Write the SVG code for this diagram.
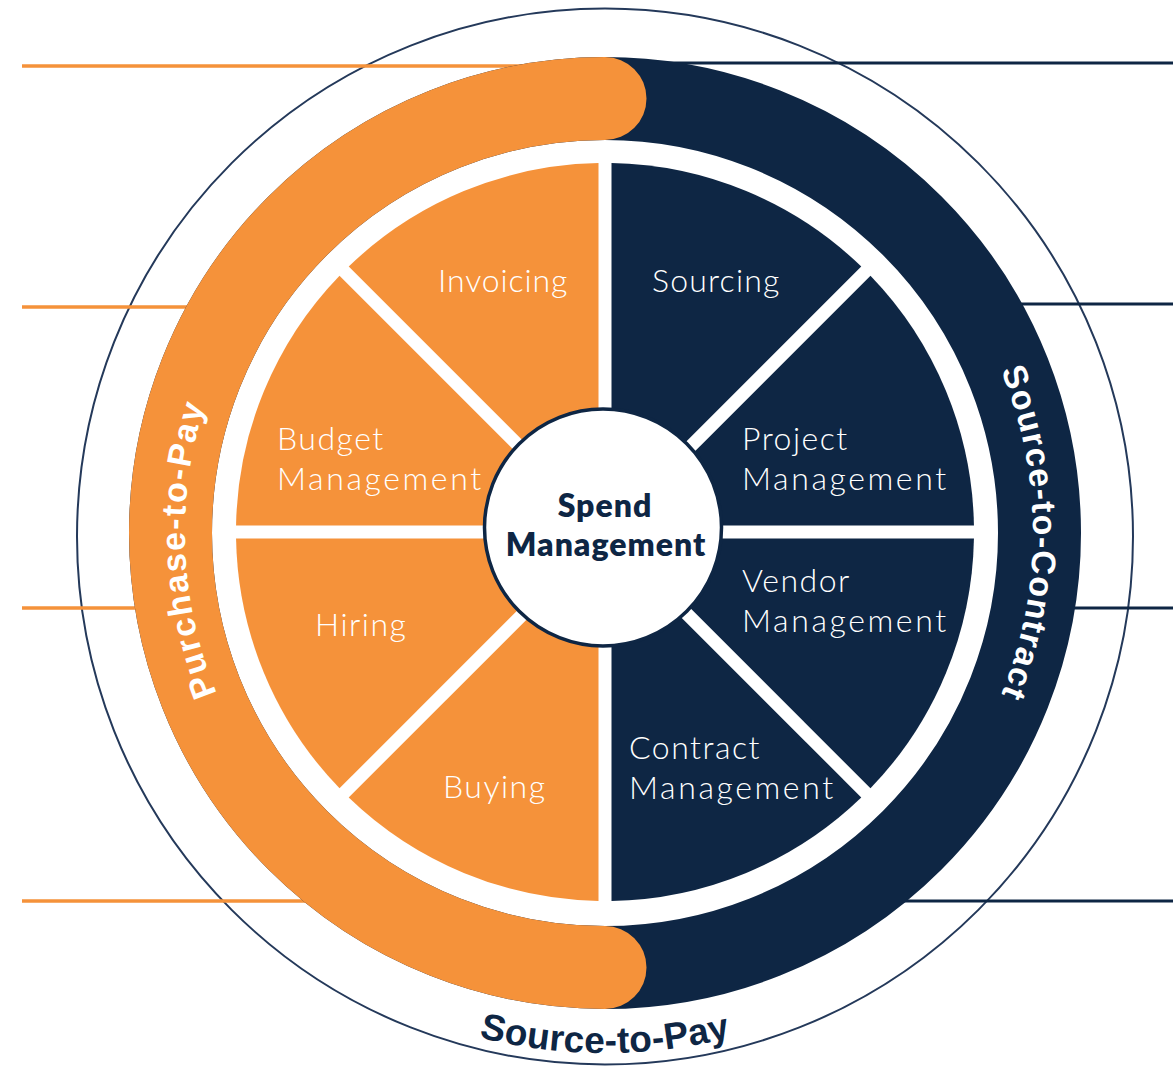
<svg xmlns="http://www.w3.org/2000/svg" width="1173" height="1067" viewBox="0 0 1173 1067">
<style>
.orange{fill:#F5923A}
.navy{fill:#0E2644}
.lbl{font-family:Lato,"Liberation Sans",sans-serif;font-weight:300;font-size:32px;fill:#ffffff;letter-spacing:1.5px}
.mg{letter-spacing:2.6px}
.ctr{font-family:Lato,"Liberation Sans",sans-serif;font-weight:800;font-size:32px;fill:#0E2644;text-anchor:middle;letter-spacing:1px}
.arc{font-family:"Liberation Sans",Arial,sans-serif;font-weight:bold;font-size:34px;fill:#ffffff;letter-spacing:1.8px}
.lo{stroke:#F5923A;stroke-width:3.5;fill:none}
.ln{stroke:#0E2644;stroke-width:3;fill:none}
</style>
<defs>
<path id="pLeft" d="M 320.2 841.7 A 420 420 0 0 1 296.3 248.2"/>
<path id="pRight" d="M 907.6 230.4 A 428 428 0 0 1 907.6 835.6"/>
<path id="pBottom" d="M 237.3 900.7 A 520 520 0 0 0 972.7 900.7"/>
</defs>
<rect x="0" y="0" width="1173" height="1067" fill="#ffffff"/>
<circle cx="605" cy="536.5" r="528" fill="none" stroke="#24395a" stroke-width="2"/>
<g id="connectors">
<line class="lo" x1="22" y1="66" x2="527" y2="66"/>
<line class="lo" x1="22" y1="307" x2="230" y2="307"/>
<line class="lo" x1="22" y1="608" x2="175" y2="608"/>
<line class="lo" x1="22" y1="901" x2="380" y2="901"/>
<line class="ln" x1="660" y1="63" x2="1173" y2="63"/>
<line class="ln" x1="975" y1="304" x2="1173" y2="304"/>
<line class="ln" x1="1035" y1="608" x2="1173" y2="608"/>
<line class="ln" x1="830" y1="901" x2="1173" y2="901"/>
</g>
<g id="node-source-to-contract">
<circle cx="605" cy="533" r="434.5" fill="none" stroke="#0E2644" stroke-width="83"/>
<text class="arc" text-anchor="middle" style="letter-spacing:1.3px"><textPath href="#pRight" startOffset="50%">Source-to-Contract</textPath></text>
</g>
<g id="node-purchase-to-pay">
<path d="M 605 98.5 A 434.5 434.5 0 0 0 605 967.5" fill="none" stroke="#F5923A" stroke-width="83" stroke-linecap="round"/>
<text class="arc" text-anchor="middle"><textPath href="#pLeft" startOffset="50%">Purchase-to-Pay</textPath></text>
</g>
<g id="node-source-to-pay">
<text class="arc" text-anchor="middle" style="fill:#0E2644;font-size:37px;letter-spacing:0.3px"><textPath href="#pBottom" startOffset="50%">Source-to-Pay</textPath></text>
</g>
<g id="node-sourcing">
<path class="navy" d="M 611.5 516.3 L 611.5 163.06 A 369 369 0 0 1 861.28 266.52 Z"/>
<text class="lbl" x="652" y="292" style="letter-spacing:1.2px">Sourcing</text>
</g>
<g id="node-project-management">
<path class="navy" d="M 620.7 525.5 L 870.48 275.72 A 369 369 0 0 1 973.94 525.5 Z"/>
<text class="lbl" x="742" y="450">Project</text>
<text class="lbl mg" x="742" y="490">Management</text>
</g>
<g id="node-vendor-management">
<path class="navy" d="M 620.7 538.5 L 973.94 538.5 A 369 369 0 0 1 870.48 788.28 Z"/>
<text class="lbl" x="742" y="592">Vendor</text>
<text class="lbl mg" x="742" y="632">Management</text>
</g>
<g id="node-contract-management">
<path class="navy" d="M 611.5 547.7 L 861.28 797.48 A 369 369 0 0 1 611.5 900.94 Z"/>
<text class="lbl" x="629" y="759">Contract</text>
<text class="lbl mg" x="629" y="799">Management</text>
</g>
<g id="node-buying">
<path class="orange" d="M 598.5 547.7 L 598.5 900.94 A 369 369 0 0 1 348.72 797.48 Z"/>
<text class="lbl" x="443" y="798">Buying</text>
</g>
<g id="node-hiring">
<path class="orange" d="M 589.3 538.5 L 339.52 788.28 A 369 369 0 0 1 236.06 538.5 Z"/>
<text class="lbl" x="315" y="636">Hiring</text>
</g>
<g id="node-budget-management">
<path class="orange" d="M 589.3 525.5 L 236.06 525.5 A 369 369 0 0 1 339.52 275.72 Z"/>
<text class="lbl" x="277" y="450">Budget</text>
<text class="lbl mg" x="277" y="490">Management</text>
</g>
<g id="node-invoicing">
<path class="orange" d="M 598.5 516.3 L 348.72 266.52 A 369 369 0 0 1 598.5 163.06 Z"/>
<text class="lbl" x="438" y="292" style="letter-spacing:0.9px">Invoicing</text>
</g>
<g id="node-spend-management">
<circle cx="603" cy="527.5" r="118.5" fill="#ffffff" stroke="#0E2644" stroke-width="3.5"/>
<text class="ctr" x="605" y="517">Spend</text>
<text class="ctr" x="606" y="556">Management</text>
</g>
</svg>
